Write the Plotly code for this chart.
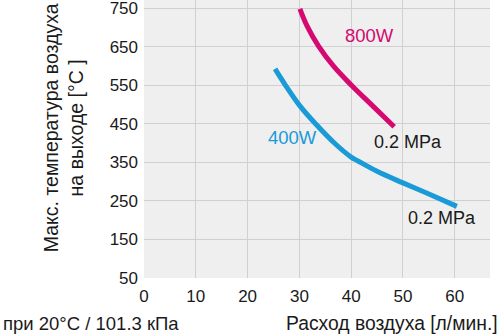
import plotly.graph_objects as go

# Data
flow_800 = [30.1, 31.5, 33.7, 36.6, 40.1, 44.3, 48.3]
temp_800 = [749, 704, 652, 600, 550, 495, 443]

flow_400 = [25.3, 27.2, 30.1, 33.3, 36.8, 40.0, 41.3, 45.0, 50.0, 55.0, 60.4]
temp_400 = [593, 553, 497, 448, 400, 364, 354, 327, 297, 268, 236]

x_ticks = [0, 10, 20, 30, 40, 50, 60]
y_ticks = [50, 150, 250, 350, 450, 550, 650, 750]

MAGENTA = "#d5096f"
BLUE = "#1b9ad8"
FONT = "Liberation Sans, Arial, sans-serif"
TXT = "#1a1a1a"

fig = go.Figure()
fig.add_trace(go.Scatter(x=flow_800, y=temp_800, mode="lines",
                         line=dict(color=MAGENTA, width=5, shape="spline", smoothing=1.1),
                         showlegend=False, hoverinfo="skip"))
fig.add_trace(go.Scatter(x=flow_400, y=temp_400, mode="lines",
                         line=dict(color=BLUE, width=5, shape="spline", smoothing=1.1),
                         showlegend=False, hoverinfo="skip"))

ann = [
    dict(x=43.5, y=679, text="800W", font=dict(color=MAGENTA, size=18.5)),
    dict(x=28.7, y=416, text="400W", font=dict(color=BLUE, size=18.5)),
    dict(x=50.9, y=403, text="0.2 MPa", font=dict(color=TXT, size=18)),
    dict(x=57.6, y=206, text="0.2 MPa", font=dict(color=TXT, size=18)),
]
annotations = []
for a in ann:
    a.update(xref="x", yref="y", showarrow=False, xanchor="center", yanchor="middle")
    a["font"]["family"] = FONT
    annotations.append(a)

annotations.append(dict(
    xref="paper", yref="paper", x=-0.233, y=0.54, textangle=-90,
    text="Макс. температура воздуха<br>на выходе [°C ]", showarrow=False,
    xanchor="center", yanchor="middle", align="center",
    font=dict(family=FONT, size=19.5, color=TXT)))
annotations.append(dict(
    xref="paper", yref="paper", x=1.03, y=-0.163,
    text="Расход воздуха [л/мин.]", showarrow=False,
    xanchor="right", yanchor="middle",
    font=dict(family=FONT, size=19.3, color=TXT)))
annotations.append(dict(
    xref="paper", yref="paper", x=-0.413, y=-0.163,
    text="при 20°C / 101.3 кПа", showarrow=False,
    xanchor="left", yanchor="middle",
    font=dict(family=FONT, size=18.5, color=TXT)))

fig.update_layout(
    width=502, height=334,
    margin=dict(l=144, r=12, t=0, b=56),
    paper_bgcolor="white", plot_bgcolor="#efefef",
    font=dict(family=FONT, color=TXT, size=17),
    annotations=annotations,
    xaxis=dict(range=[0, 66.8], tickvals=x_ticks, showgrid=True, gridcolor="#d0d0d0",
               gridwidth=1, zeroline=False, showline=False, ticks="",
               ticklabelstandoff=6, tickfont=dict(size=17), ticklabeloverflow="allow"),
    yaxis=dict(range=[50, 772], tickvals=y_ticks, showgrid=True, gridcolor="#d0d0d0",
               gridwidth=1, zeroline=False, showline=False, ticks="",
               ticklabelstandoff=5, tickfont=dict(size=17), ticklabeloverflow="allow"),
)

fig.write_html("out.html")
